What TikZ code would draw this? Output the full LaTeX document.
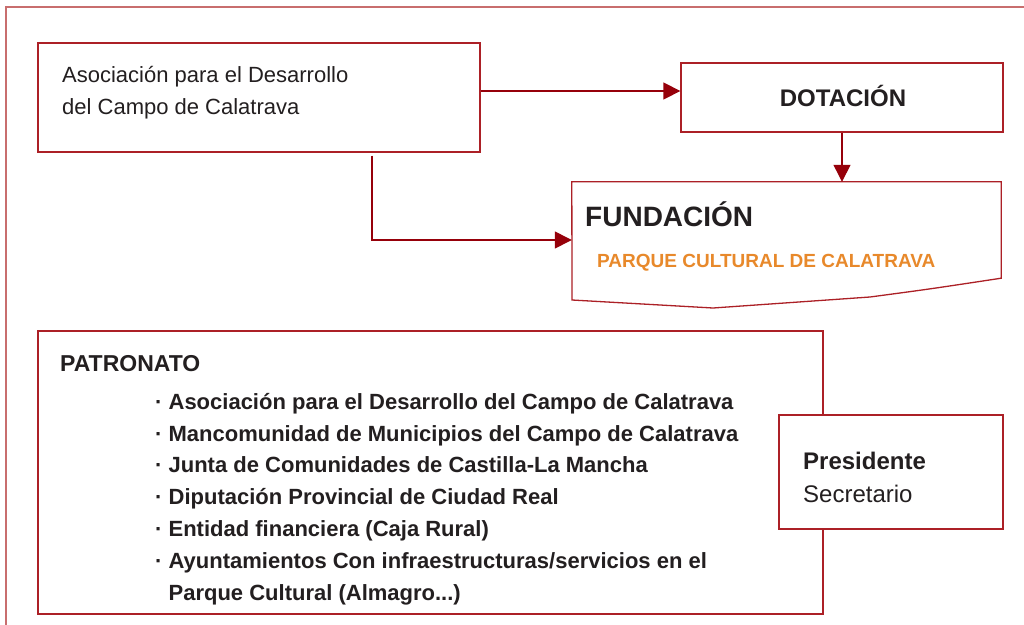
\documentclass[tikz,border=0pt]{standalone}
\usepackage{fontspec}
\setmainfont{Liberation Sans}
\usetikzlibrary{arrows.meta}
\definecolor{frameRed}{RGB}{200,110,110}
\definecolor{boxRed}{RGB}{172,32,38}
\definecolor{arrRed}{RGB}{150,0,10}
\definecolor{txt}{RGB}{35,31,32}
\definecolor{orangeTxt}{RGB}{232,137,43}
\tikzset{
  box/.style={draw=boxRed, line width=1.3pt, fill=white, inner sep=0pt},
  arr/.style={draw=arrRed, line width=1.3pt, -{Triangle[length=17pt,width=17pt]}},
  lbl/.style={text=txt, inner sep=0pt, align=left},
}
\begin{document}
\begin{tikzpicture}[x=1pt,y=-1pt]
\useasboundingbox (0,0) rectangle (1024,624);
% outer frame
\draw[frameRed, line width=1.5pt] (1030,7) -- (6,7) -- (6,630);

% Asociacion box
\node[box, minimum width=442pt, minimum height=109pt] (asoc) at (259,97.5) {};
\node[lbl, anchor=west, font=\fontsize{22}{32}\selectfont] (asoctext) at (62,92.5)
  {Asociación para el Desarrollo\\del Campo de Calatrava};

% Dotacion box
\node[box, minimum width=322pt, minimum height=69pt] (dot) at (842,97.5) {};
\node[lbl, font=\fontsize{24}{28}\selectfont\bfseries] (dottext) at (843,96) {DOTACIÓN};

% Fundacion pennant
\node[inner sep=0pt, minimum width=429pt, minimum height=96pt] (fund) at (786.5,230) {};
\draw[boxRed, line width=1.3pt, fill=white]
  (fund.north west) -- (fund.north east) -- (fund.south east)
  .. controls (930,289) .. (870,297) -- (713,308) -- (572,300) -- cycle;
\node[lbl, anchor=west, font=\fontsize{28}{32}\selectfont\bfseries] (fundtext) at (585,214) {FUNDACIÓN};
\node[lbl, anchor=west, text=orangeTxt, font=\fontsize{19}{22}\selectfont\bfseries] (parque) at (597,263) {PARQUE CULTURAL DE CALATRAVA};

% arrows
\draw[arr] ([yshift=6.5pt]asoc.east) -- ([yshift=6.5pt]dot.west);
\draw[arr] (dot.south) -- (dot.south |- fund.north);
\draw[arr] ([xshift=113pt,yshift=-3pt]asoc.south) |- ([yshift=-10pt]fund.west);

% Patronato box
\node[box, minimum width=785pt, minimum height=283pt] (patr) at (430.5,472.5) {};
\node[lbl, anchor=west, font=\fontsize{23}{28}\selectfont\bfseries] (patrtext) at (60,364) {PATRONATO};
\node[lbl, anchor=north west, font=\fontsize{22}{31.8}\selectfont\bfseries] (members) at (155,393)
  {· Asociación para el Desarrollo del Campo de Calatrava\\
   · Mancomunidad de Municipios del Campo de Calatrava\\
   · Junta de Comunidades de Castilla-La Mancha\\
   · Diputación Provincial de Ciudad Real\\
   · Entidad financiera (Caja Rural)\\
   · Ayuntamientos Con infraestructuras/servicios en el\\
   \hphantom{· }Parque Cultural (Almagro...)};

% Presidente box
\node[box, minimum width=224pt, minimum height=114pt] (pres) at (891,472) {};
\node[lbl, anchor=west, font=\fontsize{24}{33}\selectfont] (prestext) at (803,477)
  {\textbf{Presidente}\\Secretario};
\end{tikzpicture}
\end{document}
